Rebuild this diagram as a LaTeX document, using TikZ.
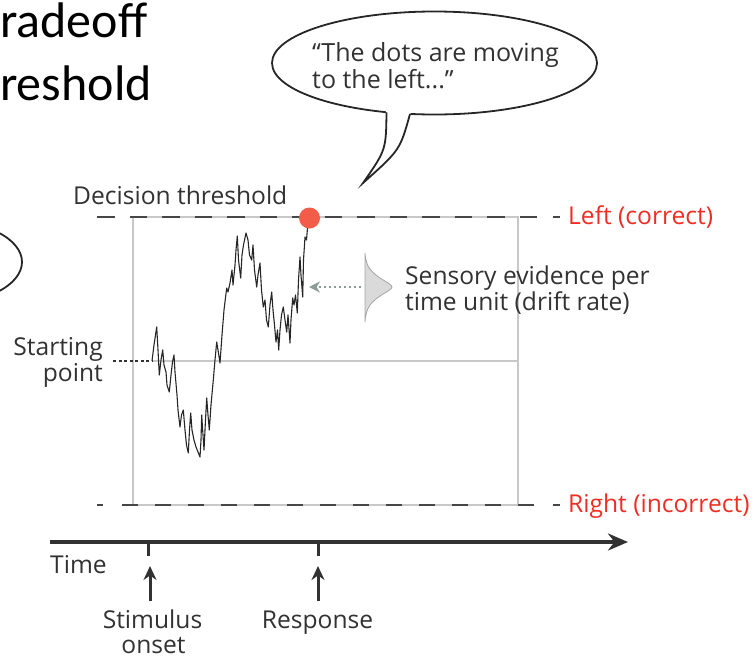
\documentclass[tikz,border=0pt]{standalone}
\usepackage{fontspec}
\setmainfont{Open Sans}
\newfontfamily\titlefont{Carlito}
\usetikzlibrary{arrows.meta}
\definecolor{txt}{RGB}{50,50,50}
\definecolor{dashc}{RGB}{70,70,70}
\definecolor{boxc}{RGB}{200,200,200}
\definecolor{redc}{RGB}{240,45,35}
\definecolor{dotc}{RGB}{242,92,72}
\definecolor{driftc}{RGB}{140,155,150}
\definecolor{gaussf}{RGB}{218,218,218}
\definecolor{gaussd}{RGB}{165,165,165}
\begin{document}
\begin{tikzpicture}[x=1pt,y=-1pt,
  lbl/.style={inner sep=0pt,text=txt,font=\fontsize{24.6}{26}\selectfont},
  redlbl/.style={inner sep=0pt,text=redc,font=\fontsize{24.6}{26}\selectfont},
  titlelbl/.style={inner sep=0pt,text=black,font=\titlefont\fontsize{50}{60}\selectfont},
  thresh/.style={draw=dashc,line width=2.5pt,dash pattern=on 17.5pt off 15pt},
  boxline/.style={draw=boxc,line width=1.5pt},
  trace/.style={draw=black!85,line width=1.1pt,line join=round},
  axis/.style={draw=txt,line width=4pt},
  uparrow/.style={draw=txt,line width=3pt,-{Stealth[length=14pt,width=13pt]}},
  bubble/.style={draw=black!85,line width=1.8pt,fill=white}]
\useasboundingbox (0,0) rectangle (755,659);

% title fragments
\node[titlelbl,anchor=base west] (t1) at (0,37) {radeoff};
\node[titlelbl,anchor=base west] (t2) at (0,100) {reshold};

% partial ellipse at left edge
\begin{scope}
\clip (0,0) rectangle (755,659);
\draw[black!85,line width=1.8pt] (-60,262) ellipse [x radius=82, y radius=42];
\end{scope}

% speech bubble
\draw[bubble] (434.5,63) ellipse [x radius=162.5, y radius=51.5];
\fill[white] (384,108) -- (387,114) .. controls (386,150) .. (363,183) .. controls (400,150) .. (410,115) -- (412,108) -- cycle;
\draw[black!85,line width=1.8pt,line join=miter] (386.5,112.3) .. controls (386,150) .. (363,183) .. controls (400,150) .. (410,114);
\node[lbl,anchor=base west,font=\fontsize{25}{27}\selectfont] (b1) at (312,61) {“The dots are moving};
\node[lbl,anchor=base west,font=\fontsize{25}{27}\selectfont] (b2) at (312,88) {to the left...”};

% box
\coordinate (bl) at (133,505);
\coordinate (tr) at (518,217);
\draw[boxline] (bl) rectangle (tr);
\draw[draw=boxc,line width=2.5pt] (152,361) -- (518,361);

% thresholds
\draw[thresh] (97,217) -- (537,217);
\draw[draw=dashc,line width=2.5pt] (553,217) -- (560,217);
\draw[draw=dashc,line width=2.5pt] (97,505) -- (103,505);
\draw[draw=dashc,line width=2.5pt,dash pattern=on 16pt off 17pt] (122,505) -- (536,505);
\draw[draw=dashc,line width=2.5pt] (553,505) -- (560,505);

\node[lbl,anchor=base west] (dt) at (73,204) {Decision threshold};
\node[redlbl,anchor=base west] (left) at (568,224) {Left (correct)};
\node[redlbl,anchor=base west] (right) at (568,512) {Right (incorrect)};

% starting point
\node[lbl,anchor=base east] (sp1) at (103,355) {Starting};
\node[lbl,anchor=base east] (sp2) at (103,381) {point};
\draw[draw=txt,line width=2pt,dash pattern=on 3pt off 2.5pt] (113,361) -- (152,361);

% trace
\draw[trace] (152,361) -- (154,345) -- (156.7,327) -- (158,350) -- (159.3,375) -- (161,360) -- (162.7,350) -- (164,365) -- (166,372) -- (167,385) -- (169.3,392) -- (171,375) -- (172.5,362) -- (174,355) -- (175,372) -- (177,395) -- (178,410) -- (180,427) -- (181.5,415) -- (183.3,410) -- (185,430) -- (186.5,445) -- (188.3,453) -- (189.5,430) -- (190.7,413) -- (192,430) -- (194,440) -- (196,447) -- (198,452) -- (200,457) -- (201,440) -- (201.7,415) -- (203,435) -- (204,450) -- (205.5,420) -- (206.7,398) -- (208,415) -- (209.3,430) -- (211,405) -- (213.3,380) -- (215,360) -- (216.7,342) -- (218,350) -- (220,363) -- (222,335) -- (224,310) -- (226.7,288) -- (228,292) -- (230,283) -- (232,270) -- (233,285) -- (235,265) -- (236,250) -- (237.3,236) -- (238.5,260) -- (240.7,278) -- (242,255) -- (243.5,245) -- (246,233) -- (248,240) -- (249.5,255) -- (251.7,260) -- (253,245) -- (254.5,270) -- (256.7,287) -- (258,275) -- (260,263) -- (261.5,290) -- (263.3,307) -- (265,300) -- (266.5,320) -- (268.3,327) -- (270,305) -- (271.7,292) -- (273,310) -- (274.5,325) -- (276,342) -- (277.5,330) -- (278.7,350) -- (280,330) -- (281.5,315) -- (283.3,307) -- (285,320) -- (286.7,332) -- (288,315) -- (290,343) -- (291,320) -- (292.7,298) -- (294,305) -- (295.5,295) -- (297.3,313) -- (298.5,280) -- (300,257) -- (301,275) -- (302.7,297) -- (303.5,260) -- (305,237) -- (306.5,240) -- (307.5,228) -- (309.3,218);
\node[circle,fill=dotc,minimum size=21pt,inner sep=0pt] (hit) at (309.5,218) {};

% drift rate
\draw[draw=gaussd,fill=gaussf,line width=0.8pt] (365,253) .. controls (366,268) and (372,272) .. (380,278) .. controls (388,283) and (392,285) .. (392,287) .. controls (392,289) and (388,291) .. (380,296) .. controls (372,302) and (366,306) .. (365,322) -- cycle;
\coordinate (gs) at (361,287);
\coordinate (ge) at (309,287);
\draw[draw=driftc,line width=2pt,dash pattern=on 2.5pt off 2.5pt,-{Stealth[length=11pt,width=11pt,open,fill=driftc!50]}] (gs) -- (ge);
\node[lbl,anchor=base west] (se1) at (405,284) {Sensory evidence per};
\node[lbl,anchor=base west] (se2) at (405,310) {time unit (drift rate)};

% time axis
\coordinate (ax0) at (50,542);
\coordinate (ax1) at (628,542);
\draw[axis,-{Stealth[length=20pt,width=17pt]}] (ax0) -- (ax1);
\draw[draw=txt,line width=3pt] (148,542) -- (148,556);
\draw[draw=txt,line width=3pt] (318,542) -- (318,556);
\node[lbl,anchor=base west] (time) at (50,573) {Time};
\coordinate (a1s) at (150,601);
\coordinate (a1e) at (150,566);
\coordinate (a2s) at (318,601);
\coordinate (a2e) at (318,566);
\draw[uparrow] (a1s) -- (a1e);
\draw[uparrow] (a2s) -- (a2e);
\node[lbl,anchor=base] (st1) at (152.5,628) {Stimulus};
\node[lbl,anchor=base] (st2) at (153.5,653) {onset};
\node[lbl,anchor=base] (resp) at (317.5,628) {Response};
\end{tikzpicture}
\end{document}
